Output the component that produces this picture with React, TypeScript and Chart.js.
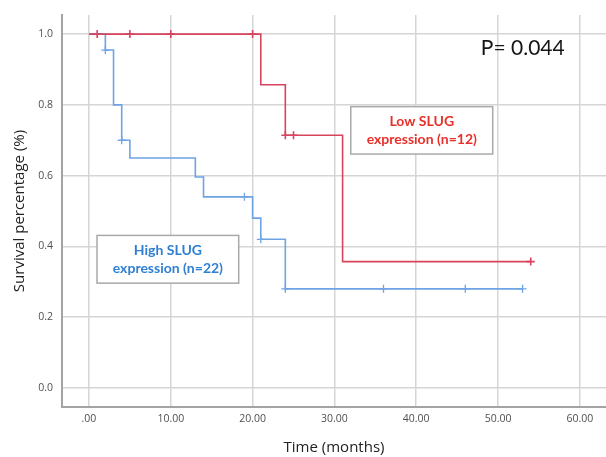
import React, { useEffect, useRef } from "react";
import { Chart, registerables } from "chart.js";

Chart.register(...registerables);

// Kaplan-Meier step data (time in months, survival proportion)
const lowTimes = [0, 21, 24, 31, 54];
const lowSurv = [1.0, 0.857, 0.714, 0.357, 0.357];
const lowCensorTimes = [1, 5, 10, 20, 24, 25, 54];
const lowCensorSurv = [1.0, 1.0, 1.0, 1.0, 0.714, 0.714, 0.357];

const highTimes = [0, 2, 3, 4, 5, 13, 14, 20, 21, 24, 53];
const highSurv = [1.0, 0.955, 0.8, 0.7, 0.65, 0.596, 0.54, 0.48, 0.42, 0.28, 0.28];
const highCensorTimes = [2, 4, 19, 21, 24, 36, 46, 53];
const highCensorSurv = [0.955, 0.7, 0.54, 0.42, 0.28, 0.28, 0.28, 0.28];

const xTicks = [0, 10, 20, 30, 40, 50, 60];
const xTickLabels = [".00", "10.00", "20.00", "30.00", "40.00", "50.00", "60.00"];
const yTicks = [0, 0.2, 0.4, 0.6, 0.8, 1.0];
const yTickLabels = ["0.0", "0.2", "0.4", "0.6", "0.8", "1.0"];

const lowLabel = ["Low SLUG", "expression (n=12)"];
const highLabel = ["High SLUG", "expression (n=22)"];
const pText = "P= 0.044";

const RED = "#d8435d";
const BLUE = "#6ea3e6";
const RED_TEXT = "#e8302a";
const BLUE_TEXT = "#2f80d2";

const zip = (xs: number[], ys: number[]) => xs.map((x, i) => ({ x, y: ys[i] }));

const annotations = {
  id: "kmAnnotations",
  afterDraw(chart: any) {
    const { ctx, scales } = chart;
    const xs = scales.x;
    const ys = scales.y;
    const drawBox = (x0: number, x1: number, y0: number, y1: number, lines: string[], color: string) => {
      const l = xs.getPixelForValue(x0);
      const r = xs.getPixelForValue(x1);
      const t = ys.getPixelForValue(y0);
      const b = ys.getPixelForValue(y1);
      ctx.save();
      ctx.fillStyle = "#ffffff";
      ctx.fillRect(l, t, r - l, b - t);
      ctx.strokeStyle = "#a9a9a9";
      ctx.lineWidth = 1.5;
      ctx.strokeRect(l, t, r - l, b - t);
      ctx.fillStyle = color;
      ctx.font = "bold 14px Lato";
      ctx.textAlign = "center";
      ctx.textBaseline = "middle";
      const cx = (l + r) / 2;
      const cy = (t + b) / 2;
      ctx.fillText(lines[0], cx, cy - 9);
      ctx.fillText(lines[1], cx, cy + 9);
      ctx.restore();
    };
    drawBox(32.0, 49.35, 0.795, 0.661, lowLabel, RED_TEXT);
    drawBox(0.98, 18.3, 0.431, 0.296, highLabel, BLUE_TEXT);
    ctx.save();
    ctx.fillStyle = "#151515";
    ctx.font = "21px Lato";
    ctx.textAlign = "left";
    ctx.textBaseline = "middle";
    ctx.fillText(pText, xs.getPixelForValue(47.9), ys.getPixelForValue(0.96));
    ctx.restore();
  },
};

export default function App() {
  const ref = useRef<HTMLCanvasElement | null>(null);
  useEffect(() => {
    if (!ref.current) return;
    const chart = new Chart(ref.current, {
      type: "line",
      data: {
        datasets: [
          {
            label: "Low SLUG",
            data: zip(lowTimes, lowSurv),
            stepped: true,
            borderColor: RED,
            borderWidth: 1.6,
            pointRadius: 0,
            fill: false,
          },
          {
            label: "High SLUG",
            data: zip(highTimes, highSurv),
            stepped: true,
            borderColor: BLUE,
            borderWidth: 1.6,
            pointRadius: 0,
            fill: false,
          },
          {
            label: "Low censored",
            data: zip(lowCensorTimes, lowCensorSurv),
            showLine: false,
            pointStyle: "cross",
            pointRadius: 4,
            pointBorderWidth: 1.6,
            borderColor: RED,
            pointBorderColor: RED,
          },
          {
            label: "High censored",
            data: zip(highCensorTimes, highCensorSurv),
            showLine: false,
            pointStyle: "cross",
            pointRadius: 4,
            pointBorderWidth: 1.3,
            borderColor: BLUE,
            pointBorderColor: BLUE,
          },
        ],
      },
      options: {
        animation: false,
        responsive: false,
        layout: { autoPadding: false, padding: { top: 15, right: 0, left: 0, bottom: 0 } },
        plugins: { legend: { display: false }, tooltip: { enabled: false } },
        scales: {
          x: {
            type: "linear",
            min: -3.3,
            max: 63.2,
            afterBuildTicks: (s: any) => {
              s.ticks = xTicks.map((v) => ({ value: v }));
            },
            afterFit: (s: any) => {
              s.height = 50;
              s.paddingLeft = 0;
              s.paddingRight = 0;
            },
            ticks: {
              callback: (_v: any, i: number) => xTickLabels[i],
              color: "#505050",
              font: { family: "Open Sans", size: 10.5 },
              padding: 6,
              maxRotation: 0,
            },
            grid: { color: "#d5d5d5", lineWidth: 1.5, drawTicks: false },
            border: { color: "#a3a3a3", width: 2 },
            title: {
              display: true,
              text: "Time (months)",
              color: "#222222",
              font: { family: "Open Sans", size: 15 },
              padding: { top: 0, bottom: 0 },
            },
          },
          y: {
            type: "linear",
            min: -0.054,
            max: 1.054,
            afterBuildTicks: (s: any) => {
              s.ticks = yTicks.map((v) => ({ value: v }));
            },
            afterFit: (s: any) => {
              s.width = 62;
              s.paddingTop = 0;
              s.paddingBottom = 0;
            },
            ticks: {
              callback: (_v: any, i: number) => yTickLabels[i],
              color: "#505050",
              font: { family: "Open Sans", size: 10.5 },
              padding: 9,
            },
            grid: { color: "#d5d5d5", lineWidth: 1.5, drawTicks: false },
            border: { color: "#a3a3a3", width: 2 },
            title: {
              display: true,
              text: "Survival percentage (%)",
              color: "#222222",
              font: { family: "Open Sans", size: 15 },
              padding: { top: 11, bottom: 0 },
            },
          },
        },
      },
      plugins: [annotations],
    } as any);
    return () => chart.destroy();
  }, []);
  return (
    <div style={{ position: "fixed", left: 0, top: 0, width: 606, height: 457, background: "#ffffff" }}>
      <canvas ref={ref} width={606} height={457} />
    </div>
  );
}
